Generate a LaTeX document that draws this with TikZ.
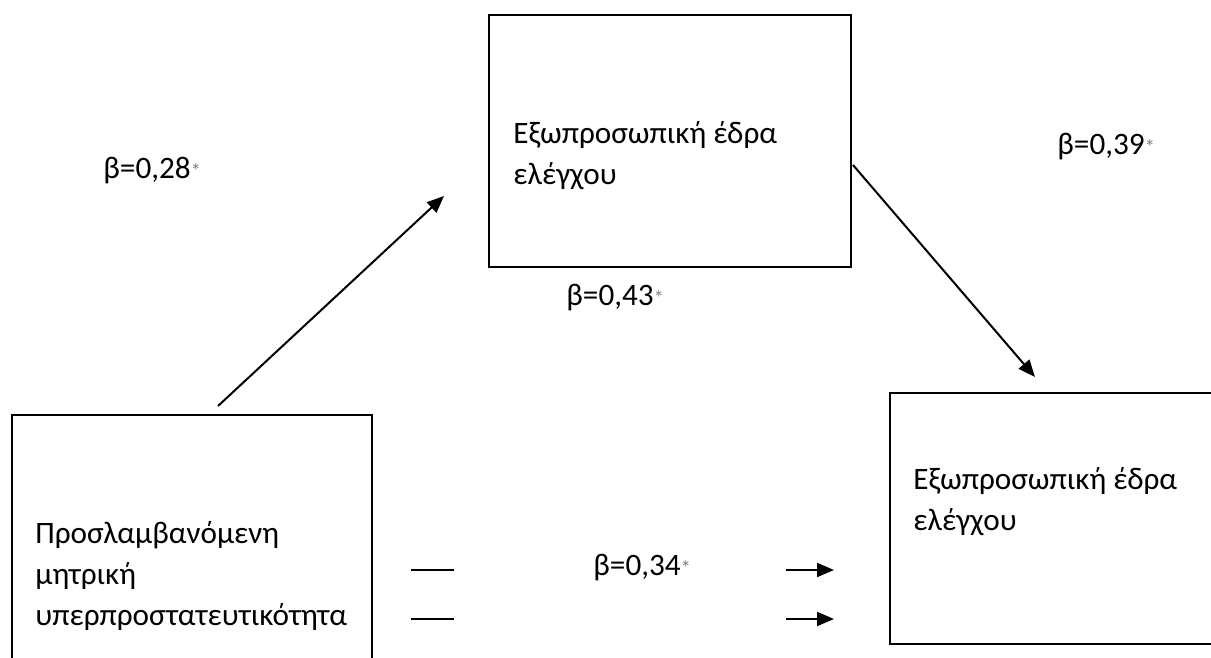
\documentclass[tikz,border=0pt]{standalone}
\usepackage{fontspec}
\setmainfont{Carlito}
\usetikzlibrary{arrows.meta}
\newcommand{\sig}{{\fontsize{10.5}{10.5}\selectfont\color{gray}*}}
\begin{document}
\begin{tikzpicture}[x=0.5pt,y=-0.5pt,
  box/.style={draw=black,line width=1pt,inner sep=0pt,anchor=north west},
  txt/.style={inner sep=0pt,align=left,anchor=west,font=\fontsize{15.6}{20.5}\selectfont},
  coef/.style={inner sep=0pt,anchor=west,font=\fontsize{15.6}{20.5}\selectfont},
  effect/.style={line width=1pt,-{Triangle[length=8.5pt,width=7pt]}},
  stub/.style={line width=1pt}]
\useasboundingbox (0,0) rectangle (1211,658);
\begin{scope}
\clip (0,0) rectangle (1211,658);
% boxes
\node[box,minimum width=181pt,minimum height=126pt] (med) at (488,14) {};
\node[box,minimum width=180pt,minimum height=163pt] (pred) at (11,414) {};
\node[box,minimum width=180pt,minimum height=125.5pt] (out) at (889,392) {};
\end{scope}
% box texts
\node[txt] (medtxt) at (513,156) {Εξωπροσωπική έδρα\\ελέγχου};
\node[txt] (predtxt) at (35,576) {Προσλαμβανόμενη\\μητρική\\υπερπροστατευτικότητα};
\node[txt] (outtxt) at (913,502) {Εξωπροσωπική έδρα\\ελέγχου};
% coefficients
\node[coef] (ba) at (103,171) {β=0,28\sig};
\node[coef] (bb) at (1057,147) {β=0,39\sig};
\node[coef] (bab) at (566,298) {β=0,43\sig};
\node[coef] (bc) at (593,568) {β=0,34\sig};
% path a
\coordinate (a1) at (218,406);
\coordinate (a2) at (444,196);
\draw[effect] (a1) -- (a2);
% path b
\coordinate (b1) at (853,165);
\coordinate (b2) at (1035,377);
\draw[effect] (b1) -- (b2);
% direct path c (broken lines)
\coordinate (c1s) at (411,570);
\coordinate (c1e) at (454,570);
\coordinate (c2s) at (411,619);
\coordinate (c2e) at (454,619);
\coordinate (d1s) at (786,570);
\coordinate (d1e) at (834,570);
\coordinate (d2s) at (786,619);
\coordinate (d2e) at (834,619);
\draw[stub] (c1s) -- (c1e);
\draw[stub] (c2s) -- (c2e);
\draw[effect] (d1s) -- (d1e);
\draw[effect] (d2s) -- (d2e);
\end{tikzpicture}
\end{document}
